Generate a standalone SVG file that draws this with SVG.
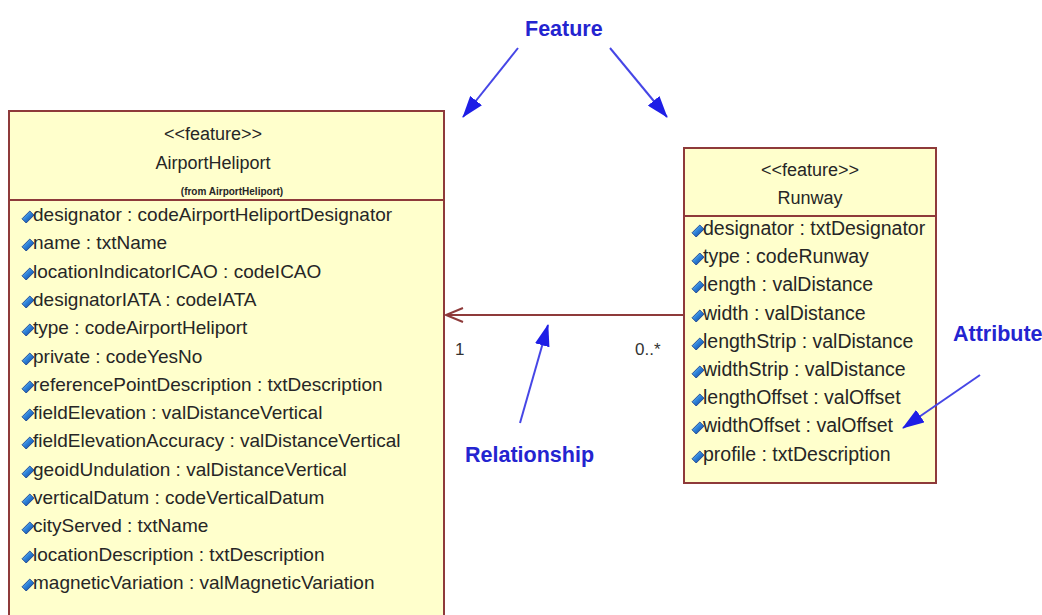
<svg xmlns="http://www.w3.org/2000/svg" width="1042" height="615" viewBox="0 0 1042 615">
  <defs>
    <style>
      .box { fill: #ffffcc; stroke: #8e3a3a; stroke-width: 2; }
      .sep { stroke: #8e3a3a; stroke-width: 2; }
      .hdr { font-family: "Liberation Sans", Arial, sans-serif; font-size: 18px; fill: #262626; text-anchor: middle; }
      .from { font-family: "Liberation Sans", Arial, sans-serif; font-size: 10px; font-weight: bold; fill: #262626; text-anchor: middle; }
      .attr { font-family: "Liberation Sans", Arial, sans-serif; font-size: 19px; fill: #262626; }
      .attr-r { font-family: "Liberation Sans", Arial, sans-serif; font-size: 19.5px; fill: #262626; }
      .mult { font-family: "Liberation Sans", Arial, sans-serif; font-size: 17px; fill: #333333; }
      .note { font-family: "Liberation Sans", Arial, sans-serif; font-size: 21.5px; font-weight: bold; fill: #2424d0; }
      .pointer { stroke: #4646e6; stroke-width: 2; fill: none; }
      .assoc { stroke: #8e3a3a; stroke-width: 2; fill: none; }
    </style>
    <linearGradient id="gem" x1="0" y1="0" x2="1" y2="1">
      <stop offset="0" stop-color="#a8dcff"/>
      <stop offset="0.45" stop-color="#2f86dc"/>
      <stop offset="1" stop-color="#0a2f8a"/>
    </linearGradient>
    <!-- attribute visibility icon -->
    <symbol id="pub" viewBox="-5 -5 10 10" overflow="visible">
      <polygon points="1.5,-5 5,-1.5 -1.5,5 -5,1.5" fill="url(#gem)" stroke="#123c8c" stroke-width="0.7"/>
    </symbol>
    <marker id="tri" viewBox="0 0 22 15" refX="21" refY="7.5" markerWidth="22" markerHeight="15" markerUnits="userSpaceOnUse" orient="auto">
      <path d="M0,0 L22,7.5 L0,15 Z" fill="#1e1ee6"/>
    </marker>
  </defs>

  <rect width="1042" height="615" fill="#ffffff"/>

  <!-- AirportHeliport class -->
  <g id="airportHeliport">
    <rect class="box" x="9" y="111" width="435" height="520"/>
    <line class="sep" x1="9" y1="200" x2="444" y2="200"/>
    <text class="hdr" x="213" y="140">&lt;&lt;feature&gt;&gt;</text>
    <text class="hdr" x="213" y="169">AirportHeliport</text>
    <text class="from" x="232" y="195">(from AirportHeliport)</text>
    <g class="attr">
      <use href="#pub" x="22" y="211" width="12" height="12"/>
      <text x="33" y="221">designator : codeAirportHeliportDesignator</text>
      <use href="#pub" x="22" y="239" width="12" height="12"/>
      <text x="33" y="249">name : txtName</text>
      <use href="#pub" x="22" y="268" width="12" height="12"/>
      <text x="33" y="278">locationIndicatorICAO : codeICAO</text>
      <use href="#pub" x="22" y="296" width="12" height="12"/>
      <text x="33" y="306">designatorIATA : codeIATA</text>
      <use href="#pub" x="22" y="324" width="12" height="12"/>
      <text x="33" y="334">type : codeAirportHeliport</text>
      <use href="#pub" x="22" y="353" width="12" height="12"/>
      <text x="33" y="363">private : codeYesNo</text>
      <use href="#pub" x="22" y="381" width="12" height="12"/>
      <text x="33" y="391">referencePointDescription : txtDescription</text>
      <use href="#pub" x="22" y="409" width="12" height="12"/>
      <text x="33" y="419">fieldElevation : valDistanceVertical</text>
      <use href="#pub" x="22" y="437" width="12" height="12"/>
      <text x="33" y="447">fieldElevationAccuracy : valDistanceVertical</text>
      <use href="#pub" x="22" y="466" width="12" height="12"/>
      <text x="33" y="476">geoidUndulation : valDistanceVertical</text>
      <use href="#pub" x="22" y="494" width="12" height="12"/>
      <text x="33" y="504">verticalDatum : codeVerticalDatum</text>
      <use href="#pub" x="22" y="522" width="12" height="12"/>
      <text x="33" y="532">cityServed : txtName</text>
      <use href="#pub" x="22" y="551" width="12" height="12"/>
      <text x="33" y="561">locationDescription : txtDescription</text>
      <use href="#pub" x="22" y="579" width="12" height="12"/>
      <text x="33" y="589">magneticVariation : valMagneticVariation</text>
    </g>
  </g>

  <!-- Runway class -->
  <g id="runway">
    <rect class="box" x="684" y="148" width="252" height="335"/>
    <line class="sep" x1="684" y1="216" x2="936" y2="216"/>
    <text class="hdr" x="810" y="176">&lt;&lt;feature&gt;&gt;</text>
    <text class="hdr" x="810" y="204">Runway</text>
    <g class="attr-r">
      <use href="#pub" x="692" y="225" width="12" height="12"/>
      <text x="703" y="235">designator : txtDesignator</text>
      <use href="#pub" x="692" y="253" width="12" height="12"/>
      <text x="703" y="263">type : codeRunway</text>
      <use href="#pub" x="692" y="281" width="12" height="12"/>
      <text x="703" y="291">length : valDistance</text>
      <use href="#pub" x="692" y="310" width="12" height="12"/>
      <text x="703" y="320">width : valDistance</text>
      <use href="#pub" x="692" y="338" width="12" height="12"/>
      <text x="703" y="348">lengthStrip : valDistance</text>
      <use href="#pub" x="692" y="366" width="12" height="12"/>
      <text x="703" y="376">widthStrip : valDistance</text>
      <use href="#pub" x="692" y="394" width="12" height="12"/>
      <text x="703" y="404">lengthOffset : valOffset</text>
      <use href="#pub" x="692" y="422" width="12" height="12"/>
      <text x="703" y="432">widthOffset : valOffset</text>
      <use href="#pub" x="692" y="451" width="12" height="12"/>
      <text x="703" y="461">profile : txtDescription</text>
    </g>
  </g>

  <!-- association and annotation pointers -->
  <g id="connectors">
    <line class="assoc" x1="684" y1="315" x2="446" y2="315"/>
    <polyline class="assoc" points="463,308 446,315 463,322"/>
    <text class="mult" x="455" y="355">1</text>
    <text class="mult" x="635" y="355">0..*</text>

    <line class="pointer" x1="518" y1="48" x2="463" y2="117" marker-end="url(#tri)"/>
    <line class="pointer" x1="610" y1="48" x2="667" y2="117" marker-end="url(#tri)"/>
    <line class="pointer" x1="520" y1="423" x2="548" y2="325" marker-end="url(#tri)"/>
    <line class="pointer" x1="980" y1="375" x2="903" y2="428" marker-end="url(#tri)"/>
  </g>

  <g id="labels">
    <text class="note" x="525" y="36">Feature</text>
    <text class="note" x="465" y="462">Relationship</text>
    <text class="note" x="953" y="341">Attribute</text>
  </g>
</svg>
